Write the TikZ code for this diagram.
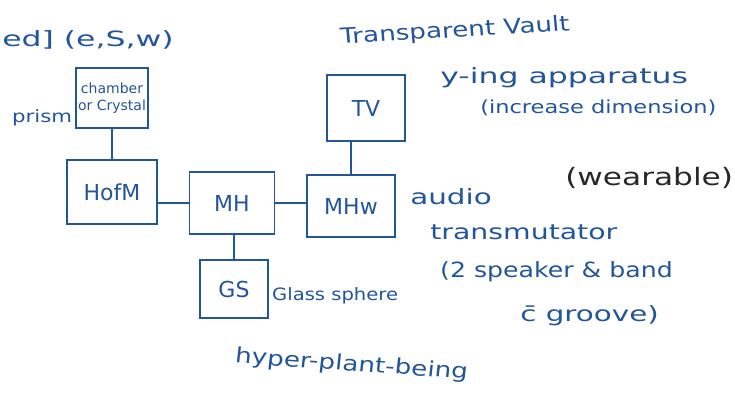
\documentclass[tikz,border=0pt]{standalone}
\usepackage{fontspec}
\setmainfont{DejaVu Sans}
\definecolor{ink}{RGB}{35,85,155}
\definecolor{pencil}{RGB}{40,40,40}
\tikzset{
  box/.style={draw=ink, line width=1.4pt, minimum width=#1, inner sep=0pt, text=ink, font=\fontsize{22}{22}\selectfont},
  lab/.style={text=ink, inner sep=0pt, anchor=west, font=\fontsize{21}{21}\selectfont},
  wire/.style={draw=ink, line width=1.4pt}
}
\begin{document}
\begin{tikzpicture}[x=1pt,y=-1pt]
\useasboundingbox (0,0) rectangle (735,410);
% boxes
\node[box=72pt, minimum height=60pt, align=center, font=\fontsize{14}{17}\selectfont] (ch) at (112,98) {chamber\\or Crystal};
\node[box=90pt, minimum height=64pt] (hofm) at (112,192) {HofM};
\node[box=85pt, minimum height=62pt] (mh) at (232,203) {MH};
\node[box=88pt, minimum height=62pt] (mhw) at (351,206) {MHw};
\node[box=78pt, minimum height=66pt] (tv) at (366,108) {TV};
\node[box=68pt, minimum height=58pt] (gs) at (234,289) {GS};
% connectors
\draw[wire] (ch.south) -- (hofm.north);
\draw[wire] (hofm.east |- mh.west) -- (mh.west);
\draw[wire] (mh.east) -- (mh.east -| mhw.west);
\draw[wire] (tv.south -| mhw.north) -- (mhw.north);
\draw[wire] (mh.south -| gs.north) -- (gs.north);
% labels
\node[lab, xscale=1.5] (t1) at (2,40) {ed] (e,S,w)};
\node[lab, xscale=1.25, font=\fontsize{17}{17}\selectfont] (t2) at (12,118) {prism};
\node[lab, xscale=1.25, rotate=4] (t3) at (340,38) {Transparent Vault};
\node[lab, xscale=1.5] (t4) at (440,78) {y-ing apparatus};
\node[lab, xscale=1.25, font=\fontsize{18}{18}\selectfont] (t5) at (480,108) {(increase dimension)};
\node[lab, xscale=1.3, text=pencil, font=\fontsize{24}{24}\selectfont] (t6) at (565,178) {(wearable)};
\node[lab, xscale=1.4] (t7) at (410,197) {audio};
\node[lab, xscale=1.35] (t8) at (430,232) {transmutator};
\node[lab, xscale=1.2] (t9) at (440,272) {(2 speaker \& band};
\node[lab, xscale=1.4] (t10) at (520,316) {c̄ groove)};
\node[lab, xscale=1.15, font=\fontsize{17}{17}\selectfont] (t11) at (272,296) {Glass sphere};
\node[lab, xscale=1.25, rotate=-5] (t12) at (235,357) {hyper-plant-being};
\end{tikzpicture}
\end{document}
